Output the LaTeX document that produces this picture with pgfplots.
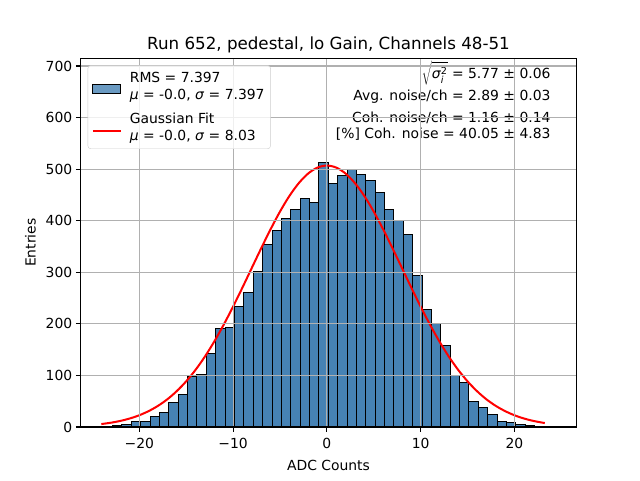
\RequirePackage{fix-cm}
\documentclass[border=0pt]{standalone}
\usepackage{fontspec}
\setmainfont{DejaVu Sans}
\usepackage{pgfplots}
\pgfplotsset{compat=1.18}
\definecolor{steelblue}{RGB}{70,130,180}
\definecolor{gridgray}{RGB}{176,176,176}
\definecolor{legframe}{RGB}{204,204,204}
\newcommand\fs{\fontsize{13.9pt}{16.7pt}\selectfont}
\newcommand\ts{\fontsize{16.7pt}{20pt}\selectfont}
\begin{document}
\begin{tikzpicture}[x=1pt,y=1pt]
\useasboundingbox (-80.7,-53) rectangle (559.3,427);
\begin{axis}[
  at={(0,0)}, anchor=south west,
  scale only axis, width=495.6pt, height=368.7pt,
  xmin=-26.25, xmax=26.6, ymin=0, ymax=715,
  axis on top,
  grid=major, grid style={gridgray, line width=1.1pt},
  axis line style={line width=1.1pt},
  every tick/.style={black, line width=1.1pt},
  tick align=outside, major tick length=4.9pt,
  xtick pos=left, ytick pos=left,
  xtick={-20,-10,0,10,20}, xticklabels={−20,−10,0,10,20},
  ytick={0,100,200,300,400,500,600,700},
  yticklabels={0,100,200,300,400,500,600,700},
  tick label style={font=\fs},
  xticklabel style={yshift=-3pt},
  xlabel={ADC Counts}, ylabel={Entries}, label style={font=\fs},
  xlabel style={yshift=-4pt}, ylabel style={yshift=3pt},
  title={Run 652, pedestal, lo Gain, Channels 48-51}, title style={font=\ts, yshift=-4pt},
  legend style={at={(0.014,0.981)}, anchor=north west, draw=legframe,
    rounded corners=3pt, fill=white, fill opacity=0.8, draw opacity=1, text opacity=1,
    font=\fs, inner xsep=4pt, inner ysep=5pt, row sep=8pt, column sep=6pt, cells={align=left}},
  legend cell align=left,
]
\addplot[ybar interval, fill=steelblue, draw=black, line width=1.0pt,
  legend image code/.code={\draw[sharp corners, fill=steelblue, draw=black, line width=1.2pt] (0pt,-7pt) rectangle (28pt,2.4pt);}]
  table {
x y
-23.85 1
-22.85 2
-21.85 4
-20.85 10
-19.85 10
-18.85 20
-17.85 28
-16.85 48
-15.85 63
-14.85 97
-13.85 102
-12.85 143
-11.85 191
-10.85 192
-9.85 233
-8.85 260
-7.85 301
-6.85 353
-5.85 381
-4.85 405
-3.85 421
-2.85 444
-1.85 436
-0.85 512
0.15 473
1.15 488
2.15 499
3.15 490
4.15 479
5.15 454
6.15 421
7.15 401
8.15 374
9.15 293
10.15 227
11.15 201
12.15 159
13.15 99
14.15 87
15.15 50
16.15 38
17.15 24
18.15 11
19.15 8
20.15 4
21.15 3
22.15 1
23.15 0
};
\addlegendentry{RMS = 7.397\\\textit{μ} = -0.0, \textit{σ} = 7.397}
\addplot[red, line width=2pt, smooth,
  legend image code/.code={\draw[sharp corners, red, line width=2pt] (0pt,-4pt) -- (28pt,-4pt);}]
  table {
x y
-24.05 5.7
-23 8.4
-22 11.9
-21 16.6
-20 22.8
-19 30.9
-18 41.1
-17 53.9
-16 69.7
-15 88.6
-14 110.9
-13 136.7
-12 166.0
-11 198.4
-10 233.5
-9 270.5
-8 308.7
-7 346.7
-6 383.5
-5 417.7
-4 447.9
-3 472.8
-2 491.5
-1 503.1
0 507
1 503.1
2 491.5
3 472.8
4 447.9
5 417.7
6 383.5
7 346.7
8 308.7
9 270.5
10 233.5
11 198.4
12 166.0
13 136.7
14 110.9
15 88.6
16 69.7
17 53.9
18 41.1
19 30.9
20 22.8
21 16.6
22 11.9
23 8.4
23.24 7.7
};
\addlegendentry{Gaussian Fit\\\textit{μ} = -0.0, \textit{σ} = 8.03}
\node[anchor=base east, font=\fs] at (rel axis cs:0.955,0.944)
  {$\sqrt{\rule{0pt}{14pt}\mbox{\textit{σ}}_{\mbox{\fontsize{9.7pt}{10pt}\selectfont\textit{i}}}^{\mbox{\fontsize{9.7pt}{10pt}\selectfont 2}}}$ = 5.77 ± 0.06};
\node[anchor=base east, font=\fs] at (rel axis cs:0.955,0.885) {Avg. noise/ch = 2.89 ± 0.03};
\node[anchor=base east, font=\fs] at (rel axis cs:0.955,0.827) {Coh. noise/ch = 1.16 ± 0.14};
\node[anchor=base east, font=\fs] at (rel axis cs:0.955,0.783) {[\%] Coh. noise = 40.05 ± 4.83};
\end{axis}
\end{tikzpicture}
\end{document}
